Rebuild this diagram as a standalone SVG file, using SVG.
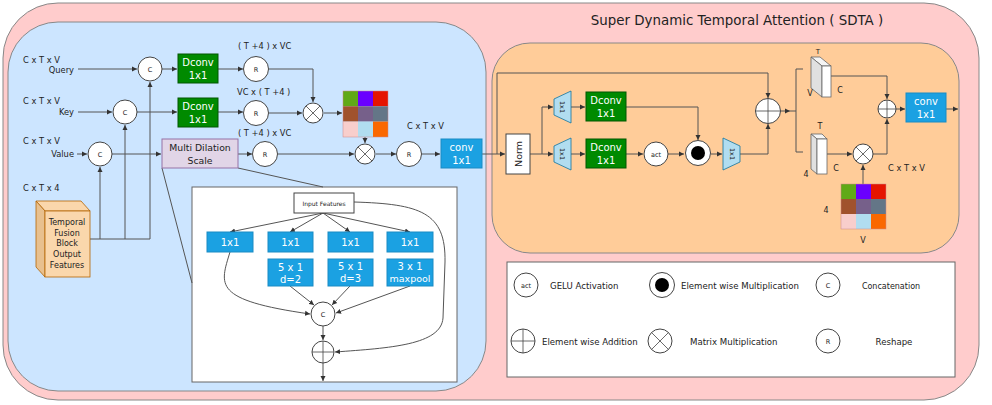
<svg xmlns="http://www.w3.org/2000/svg" width="992" height="405" viewBox="0 0 992 405">
<defs>
<marker id="ah" markerWidth="6" markerHeight="6" refX="5" refY="3" orient="auto" markerUnits="userSpaceOnUse">
<path d="M0,0.5 L5,3 L0,5.5 Z" fill="#333"/>
</marker>
<style>
text{font-family:"DejaVu Sans","Liberation Sans",sans-serif;fill:#222}
.lbl{font-size:8.3px}
.sm{font-size:6.5px}
.wt{fill:#fff;font-size:10px}
.lg{font-size:8.6px}
.c{fill:#fff;stroke:#444;stroke-width:1}
.ln{fill:none;stroke:#555;stroke-width:1}
.ar{fill:none;stroke:#555;stroke-width:1;marker-end:url(#ah)}
.green{fill:#008a00;stroke:#005700}
.blue{fill:#1ba1e2;stroke:#1a8bc4}
.trap{fill:#b1ddf0;stroke:#10739e;stroke-width:0.8}
.sym{stroke:#444;stroke-width:0.8}
</style>
</defs>

<!-- panels -->
<rect x="3" y="3" width="976" height="397" rx="55" fill="#ffcccc" stroke="#888"/>
<rect x="8" y="22" width="478" height="369" rx="50" fill="#cce5ff" stroke="#888"/>
<rect x="492" y="43" width="467" height="210" rx="38" fill="#ffcc99" stroke="#888"/>
<text x="737" y="25" text-anchor="middle" style="font-size:13.4px">Super Dynamic Temporal Attention ( SDTA )</text>

<rect x="192" y="187" width="265" height="195" fill="#fff" stroke="#666"/>
<rect x="507" y="262" width="448" height="115" fill="#fff" stroke="#666"/>

<g id="connectors">
<line x1="162" y1="168" x2="192" y2="283" class="ln"/>
<line x1="238" y1="168" x2="323" y2="187" class="ln"/>
<line x1="78" y1="69" x2="137" y2="69" class="ar"/>
<line x1="78" y1="112" x2="112" y2="112" class="ar"/>
<line x1="77" y1="154" x2="87" y2="154" class="ar"/>
<polyline points="90,239 150,239 150,82" class="ar"/>
<line x1="125" y1="239" x2="125" y2="125" class="ar"/>
<line x1="100" y1="239" x2="100" y2="167" class="ar"/>
<line x1="162" y1="69" x2="177" y2="69" class="ar"/>
<line x1="137" y1="112" x2="177" y2="112" class="ar"/>
<line x1="112" y1="154" x2="161" y2="154" class="ar"/>
<line x1="218" y1="69" x2="243" y2="69" class="ar"/>
<line x1="218" y1="112" x2="243" y2="112" class="ar"/>
<line x1="238" y1="154" x2="252" y2="154" class="ar"/>
<polyline points="269,69 313,69 313,102" class="ar"/>
<line x1="269" y1="113" x2="302" y2="113" class="ar"/>
<line x1="324" y1="113" x2="342" y2="113" class="ar"/>
<line x1="365" y1="137" x2="365" y2="143" class="ar"/>
<line x1="278" y1="154" x2="354" y2="154" class="ar"/>
<line x1="376" y1="154" x2="396" y2="154" class="ar"/>
<line x1="422" y1="154" x2="440" y2="154" class="ar"/>
<line x1="482" y1="154" x2="505" y2="154" class="ar"/>
<line x1="323" y1="213" x2="230" y2="232" class="ar"/>
<line x1="323" y1="213" x2="290" y2="232" class="ar"/>
<line x1="323" y1="213" x2="350" y2="232" class="ar"/>
<line x1="323" y1="213" x2="410" y2="232" class="ar"/>
<path d="M230,252 C220,285 212,300 310,314" class="ar"/>
<line x1="290" y1="286" x2="314" y2="305" class="ar"/>
<line x1="350" y1="286" x2="332" y2="305" class="ar"/>
<line x1="410" y1="286" x2="336" y2="313" class="ar"/>
<line x1="323" y1="326" x2="323" y2="340" class="ar"/>
<line x1="323" y1="363" x2="323" y2="381" class="ar"/>
<path d="M354,202 C420,204 446,212 445,262 L443,318 C441,345 390,348 335,352" class="ar"/>
<polyline points="497,154 497,73 768,73 768,98" class="ar"/>
<line x1="530" y1="154" x2="553" y2="154" class="ar"/>
<polyline points="542,154 542,107 553,107" class="ar"/>
<line x1="571" y1="107" x2="585" y2="107" class="ar"/>
<line x1="571" y1="154" x2="585" y2="154" class="ar"/>
<polyline points="626,107 698,107 698,140" class="ar"/>
<line x1="626" y1="154" x2="643" y2="154" class="ar"/>
<line x1="668" y1="154" x2="684" y2="154" class="ar"/>
<line x1="711" y1="154" x2="722" y2="154" class="ar"/>
<polyline points="740,154 768,154 768,124" class="ar"/>
<line x1="781" y1="111" x2="790" y2="111" class="ar"/>
<line x1="790" y1="111" x2="796" y2="111" class="ln"/>
<polyline points="803,69 796,69 796,152 803,152" class="ln"/>
<polyline points="831,76 887,76 887,99" class="ar"/>
<line x1="827" y1="154" x2="852" y2="154" class="ar"/>
<polyline points="873,154 887,154 887,119" class="ar"/>
<line x1="896" y1="109" x2="905" y2="109" class="ar"/>
<line x1="946" y1="109" x2="958" y2="109" class="ar"/>
<line x1="863" y1="184" x2="863" y2="165" class="ar"/>
</g>

<text x="23" y="63" class="lbl">C x T x V</text>
<text x="74" y="73" class="lbl" text-anchor="end">Query</text>
<text x="23" y="104" class="lbl">C x T x V</text>
<text x="74" y="115" class="lbl" text-anchor="end">Key</text>
<text x="23" y="144" class="lbl">C x T x V</text>
<text x="74" y="157" class="lbl" text-anchor="end">Value</text>
<text x="23" y="191" class="lbl">C x T x 4</text>
<text x="238" y="49" class="lbl">( T +4 ) x VC</text>
<text x="237" y="95" class="lbl">VC x ( T +4 )</text>
<text x="238" y="136" class="lbl">( T +4 ) x VC</text>
<text x="407" y="129" class="lbl">C x T x V</text>

<g id="tfb">
<polygon points="36,201 81,201 90,211 45,211" fill="#fad7ac" stroke="#b46504" stroke-width="0.8"/>
<polygon points="36,201 45,211 45,277 36,267" fill="#e8c08e" stroke="#b46504" stroke-width="0.8"/>
<rect x="45" y="211" width="45" height="66" fill="#fad7ac" stroke="#b46504" stroke-width="0.8"/>
<text x="67" y="225" text-anchor="middle" style="font-size:8px">Temporal</text>
<text x="67" y="236" text-anchor="middle" style="font-size:8px">Fusion</text>
<text x="67" y="246" text-anchor="middle" style="font-size:8px">Block</text>
<text x="67" y="257" text-anchor="middle" style="font-size:8px">Output</text>
<text x="67" y="268" text-anchor="middle" style="font-size:8px">Features</text>
</g>

<g id="cq"><circle cx="150" cy="69" r="12" class="c"/><text x="150" y="71.5" class="sm" text-anchor="middle">C</text></g>
<g id="ck"><circle cx="125" cy="112" r="12" class="c"/><text x="125" y="114.5" class="sm" text-anchor="middle">C</text></g>
<g id="cv"><circle cx="100" cy="154" r="12" class="c"/><text x="100" y="156.5" class="sm" text-anchor="middle">C</text></g>
<g id="dq"><rect x="178" y="54" width="40" height="29" class="green"/><text x="198" y="66" class="wt" text-anchor="middle">Dconv</text><text x="198" y="79" class="wt" text-anchor="middle">1x1</text></g>
<g id="dk"><rect x="178" y="98" width="40" height="29" class="green"/><text x="198" y="110" class="wt" text-anchor="middle">Dconv</text><text x="198" y="123" class="wt" text-anchor="middle">1x1</text></g>
<g id="mds"><rect x="162" y="139" width="76" height="29" fill="#e1d5e7" stroke="#9673a6"/><text x="200" y="151" text-anchor="middle" style="font-size:9.3px">Multi Dilation</text><text x="200" y="164" text-anchor="middle" style="font-size:9.3px">Scale</text></g>
<g id="r1"><circle cx="256" cy="69" r="12.5" class="c"/><text x="256" y="71.5" class="sm" text-anchor="middle">R</text></g>
<g id="r2"><circle cx="256" cy="113" r="12.5" class="c"/><text x="256" y="115.5" class="sm" text-anchor="middle">R</text></g>
<g id="r3"><circle cx="265" cy="154" r="12.5" class="c"/><text x="265" y="156.5" class="sm" text-anchor="middle">R</text></g>
<g id="r4"><circle cx="409" cy="154" r="12.5" class="c"/><text x="409" y="156.5" class="sm" text-anchor="middle">R</text></g>
<g id="mm1"><circle cx="313" cy="113" r="10" class="c"/><path d="M306,106 L320,120 M320,106 L306,120" class="sym"/></g>
<g id="mm2"><circle cx="365" cy="154" r="10" class="c"/><path d="M358,147 L372,161 M372,147 L358,161" class="sym"/></g>
<g id="grid1">
<rect x="343" y="91" width="15" height="15.3" fill="#60a917"/><rect x="358" y="91" width="15" height="15.3" fill="#6a00ff"/><rect x="373" y="91" width="15" height="15.3" fill="#e51400"/>
<rect x="343" y="106.3" width="15" height="15.3" fill="#a0522d"/><rect x="358" y="106.3" width="15" height="15.3" fill="#76608a"/><rect x="373" y="106.3" width="15" height="15.3" fill="#647687"/>
<rect x="343" y="121.6" width="15" height="15.4" fill="#f8cecc"/><rect x="358" y="121.6" width="15" height="15.4" fill="#b1ddf0"/><rect x="373" y="121.6" width="15" height="15.4" fill="#fa6800"/>
<rect x="343" y="91" width="45" height="46" fill="none" stroke="#c88" stroke-width="0.5"/>
</g>
<g id="conv1"><rect x="441" y="139" width="41" height="29" class="blue"/><text x="461.5" y="151" class="wt" text-anchor="middle">conv</text><text x="461.5" y="164" class="wt" text-anchor="middle">1x1</text></g>

<g id="inf"><rect x="294" y="193" width="60" height="20" fill="#fff" stroke="#444"/><text x="324" y="205.5" text-anchor="middle" style="font-size:6px">Input Features</text></g>
<g id="b1"><rect x="207" y="232" width="46" height="20" class="blue"/><text x="230" y="246" class="wt" text-anchor="middle">1x1</text></g>
<g id="b2"><rect x="268" y="232" width="45" height="20" class="blue"/><text x="290.5" y="246" class="wt" text-anchor="middle">1x1</text></g>
<g id="b3"><rect x="328" y="232" width="45" height="20" class="blue"/><text x="350.5" y="246" class="wt" text-anchor="middle">1x1</text></g>
<g id="b4"><rect x="387" y="232" width="46" height="20" class="blue"/><text x="410" y="246" class="wt" text-anchor="middle">1x1</text></g>
<g id="b5"><rect x="268" y="259" width="45" height="27" class="blue"/><text x="290.5" y="271" class="wt" text-anchor="middle">5 x 1</text><text x="290.5" y="283" class="wt" text-anchor="middle">d=2</text></g>
<g id="b6"><rect x="328" y="259" width="45" height="27" class="blue"/><text x="350.5" y="270" class="wt" text-anchor="middle">5 x 1</text><text x="350.5" y="282" class="wt" text-anchor="middle">d=3</text></g>
<g id="b7"><rect x="387" y="259" width="46" height="27" class="blue"/><text x="410" y="270" class="wt" text-anchor="middle">3 x 1</text><text x="410" y="282" class="wt" text-anchor="middle" style="font-size:9.5px">maxpool</text></g>
<g id="ic"><circle cx="323" cy="314" r="12" class="c"/><text x="323" y="316.5" class="sm" text-anchor="middle">C</text></g>
<g id="ia"><circle cx="323" cy="352" r="11" class="c"/><path d="M312,352 L334,352 M323,341 L323,363" class="sym"/></g>

<g id="norm"><rect x="506" y="134" width="24" height="40" fill="#fff" stroke="#444"/><text transform="translate(521.5,154) rotate(-90)" text-anchor="middle" style="font-size:9.5px">Norm</text></g>
<g id="t1"><polygon points="554,99 571,91 571,123 554,115" class="trap"/><text transform="translate(560,107) rotate(90)" text-anchor="middle" style="font-size:6.5px">1x1</text></g>
<g id="t2"><polygon points="554,146 571,138 571,170 554,162" class="trap"/><text transform="translate(560,154) rotate(90)" text-anchor="middle" style="font-size:6.5px">1x1</text></g>
<g id="d1"><rect x="586" y="92" width="40" height="29" class="green"/><text x="606" y="104" class="wt" text-anchor="middle">Dconv</text><text x="606" y="117" class="wt" text-anchor="middle">1x1</text></g>
<g id="d2"><rect x="586" y="139" width="40" height="29" class="green"/><text x="606" y="151" class="wt" text-anchor="middle">Dconv</text><text x="606" y="164" class="wt" text-anchor="middle">1x1</text></g>
<g id="act"><circle cx="656" cy="154" r="12" class="c"/><text x="656" y="156.5" class="sm" text-anchor="middle">act</text></g>
<g id="em"><circle cx="698" cy="153" r="12.5" class="c"/><circle cx="698" cy="153" r="7" fill="#000"/></g>
<g id="t3"><polygon points="723,138 740,146 740,162 723,170" class="trap"/><text transform="translate(730,154) rotate(90)" text-anchor="middle" style="font-size:6.5px">1x1</text></g>
<g id="add1"><circle cx="768" cy="111" r="12.5" class="c"/><path d="M755.5,111 L780.5,111 M768,98.5 L768,123.5" class="sym"/></g>
<g id="blk1">
<polygon points="811,57 820,57 831,66 822,66" fill="#f5f5f5" stroke="#666" stroke-width="0.8"/>
<polygon points="811,57 822,66 822,97 811,88" fill="#e0e0e0" stroke="#666" stroke-width="0.8"/>
<rect x="822" y="66" width="9" height="31" fill="#fff" stroke="#666" stroke-width="0.8"/>
<text x="818" y="54" text-anchor="middle" style="font-size:7px">T</text>
<text x="810" y="96" text-anchor="middle" style="font-size:8px">V</text>
<text x="840" y="93" text-anchor="middle" style="font-size:8px">C</text>
</g>
<g id="blk2">
<polygon points="811,134 822,134 827,139 817,139" fill="#f5f5f5" stroke="#666" stroke-width="0.8"/>
<polygon points="811,134 817,139 817,174 811,169" fill="#e0e0e0" stroke="#666" stroke-width="0.8"/>
<rect x="817" y="139" width="10" height="35" fill="#fff" stroke="#666" stroke-width="0.8"/>
<text x="820" y="129" text-anchor="middle" style="font-size:8px">T</text>
<text x="806" y="177" text-anchor="middle" style="font-size:8px">4</text>
<text x="836" y="171" text-anchor="middle" style="font-size:8px">C</text>
</g>
<g id="add2"><circle cx="887" cy="109" r="9" class="c"/><path d="M878,109 L896,109 M887,100 L887,118" class="sym"/></g>
<g id="mm3"><circle cx="863" cy="154" r="10" class="c"/><path d="M856,147 L870,161 M870,147 L856,161" class="sym"/></g>
<text x="888" y="171" class="lbl">C x T x V</text>
<g id="conv2"><rect x="906" y="93" width="40" height="29" class="blue"/><text x="926" y="105" class="wt" text-anchor="middle">conv</text><text x="926" y="118" class="wt" text-anchor="middle">1x1</text></g>
<g id="grid2">
<rect x="841" y="184" width="15" height="15" fill="#60a917"/><rect x="856" y="184" width="15" height="15" fill="#6a00ff"/><rect x="871" y="184" width="15" height="15" fill="#e51400"/>
<rect x="841" y="199" width="15" height="15" fill="#a0522d"/><rect x="856" y="199" width="15" height="15" fill="#76608a"/><rect x="871" y="199" width="15" height="15" fill="#647687"/>
<rect x="841" y="214" width="15" height="15" fill="#f8cecc"/><rect x="856" y="214" width="15" height="15" fill="#b1ddf0"/><rect x="871" y="214" width="15" height="15" fill="#fa6800"/>
<rect x="841" y="184" width="45" height="45" fill="none" stroke="#c88" stroke-width="0.5"/>
<text x="826" y="213" text-anchor="middle" style="font-size:8px">4</text>
<text x="863" y="243" text-anchor="middle" style="font-size:8px">V</text>
</g>

<g id="legend">
<circle cx="526" cy="285" r="12" class="c"/><text x="526" y="287.5" class="sm" text-anchor="middle">act</text>
<text x="550" y="289" class="lg">GELU Activation</text>
<circle cx="662" cy="285" r="12.5" class="c"/><circle cx="662" cy="285" r="7" fill="#000"/>
<text x="681" y="289" class="lg">Element wise Multiplication</text>
<circle cx="828" cy="285" r="12" class="c"/><text x="828" y="287.5" class="sm" text-anchor="middle">C</text>
<text x="891" y="289" text-anchor="middle" style="font-size:8px">Concatenation</text>
<circle cx="523" cy="341" r="12" class="c"/><path d="M511,341 L535,341 M523,329 L523,353" class="sym"/>
<text x="542" y="345" class="lg">Element wise Addition</text>
<circle cx="660" cy="341" r="12" class="c"/><path d="M651.5,332.5 L668.5,349.5 M668.5,332.5 L651.5,349.5" class="sym"/>
<text x="690" y="345" class="lg">Matrix Multiplication</text>
<circle cx="828" cy="341" r="12" class="c"/><text x="828" y="343.5" class="sm" text-anchor="middle">R</text>
<text x="894" y="345" class="lg" text-anchor="middle">Reshape</text>
</g>
</svg>
